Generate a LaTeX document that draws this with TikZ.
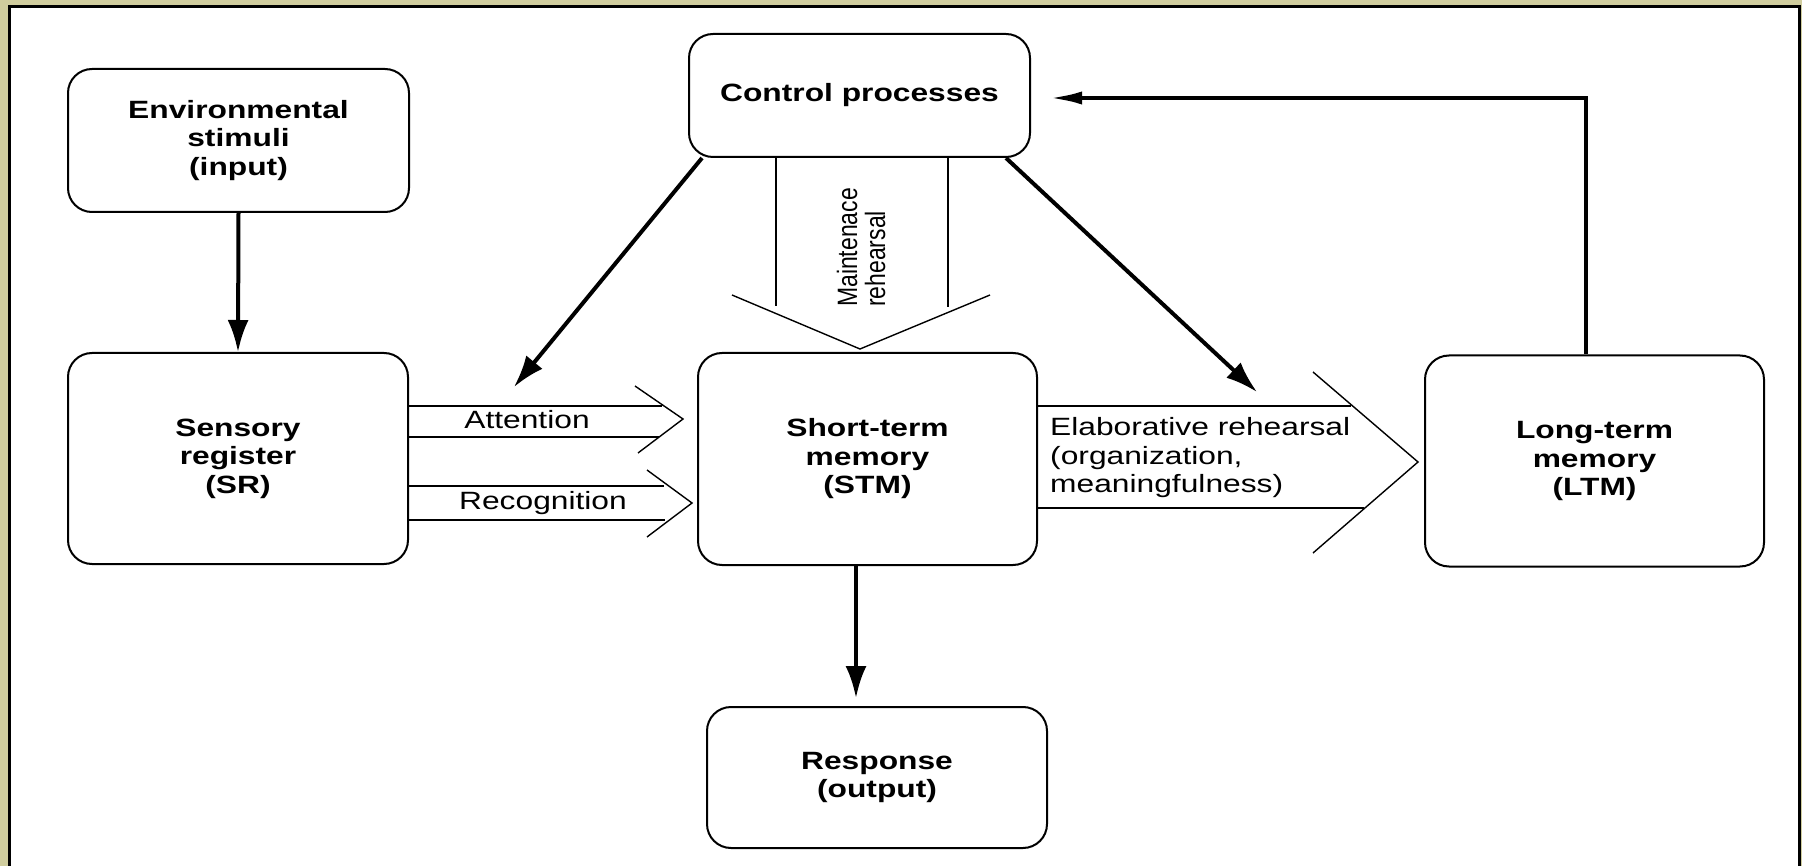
\documentclass[tikz,border=0pt]{standalone}
\usepackage{fontspec}
\setmainfont{Liberation Sans}
\newfontfamily\lblfont[FakeStretch=1.27]{Liberation Sans}
\newfontfamily\rotfont[FakeStretch=0.82]{Liberation Sans}
\usetikzlibrary{arrows.meta,calc}
\definecolor{olivebg}{RGB}{208,205,158}
\tikzset{
  box/.style={draw, line width=2pt, rounded corners=24pt, inner sep=0pt, align=center,
    font=\lblfont\bfseries\fontsize{25}{28.5}\selectfont},
  bigarr/.style={line width=4pt, -{Latex[length=32pt,width=21pt]}},
  broad/.style={line width=1.8pt},
  chev/.style={line width=1.4pt, line join=miter},
  lbl/.style={font=\lblfont\fontsize{25}{28.5}\selectfont, inner sep=0pt}
}
\begin{document}
\begin{tikzpicture}[x=1pt,y=-1pt]
\useasboundingbox (0,0) rectangle (1802,866);
\fill[olivebg] (0,0) rectangle (1802,866);
\fill[white] (10,7) rectangle (1799,866);
\draw[line width=3pt] (9.5,866) -- (9.5,6.5) -- (1799.5,6.5) -- (1799.5,866);

\node[box, minimum width=341pt, minimum height=143pt] (env) at (238.5,140.5) {Environmental\\stimuli\\(input)};
\node[box, minimum width=341pt, minimum height=123pt] (ctrl) at (859.5,95.5) {Control processes};
\node[box, minimum width=340pt, minimum height=211pt] (sr) at (238,458.5) {Sensory\\register\\(SR)};
\node[box, minimum width=339pt, minimum height=212pt] (stm) at (867.5,459) {Short-term\\memory\\(STM)};
\node[box, minimum width=339pt, minimum height=211pt] (ltm) at (1594.5,461) {Long-term\\memory\\(LTM)};
\node[box, minimum width=340pt, minimum height=141pt] (resp) at (877,777.5) {Response\\(output)};

% thick arrows
\draw[bigarr] (env.south) -- (sr.north);
\draw[bigarr] ([xshift=-11.5pt]stm.south) -- ([xshift=-11.5pt,yshift=8pt]stm.south |- resp.north);
\draw[line width=4.5pt, -{Latex[length=34pt,width=13pt]}] ([xshift=-8.5pt]ltm.north) |- ([xshift=17pt,yshift=-2.5pt]ctrl.east);
\coordinate (attnTip) at (514,387);
\coordinate (elabTip) at (1257,392);
\draw[bigarr] ([xshift=14pt]ctrl.south west) -- (attnTip);
\draw[bigarr] ([xshift=-25pt]ctrl.south east) -- (elabTip);

% Attention
\draw[broad] (sr.east |- 0,406) -- (662,406);
\draw[broad] (sr.east |- 0,437) -- (659,437);
\draw[chev] (635,386) -- (683,419) -- (638,453);
\node[lbl] (attn) at (527,420) {Attention};

% Recognition
\draw[broad] (sr.east |- 0,486) -- (664,486);
\draw[broad] (sr.east |- 0,520) -- (665,520);
\draw[chev] (647,470) -- (692,503) -- (647,537);
\node[lbl] (recog) at (543,503) {Recognition};

% Elaborative rehearsal
\draw[broad] (stm.east |- 0,406) -- (1351,406);
\draw[broad] (stm.east |- 0,508) -- (1364,508);
\draw[chev] (1313,372) -- (1418,462) -- (1313,553);
\node[lbl, anchor=west, align=left] (elab) at (1050,458) {Elaborative rehearsal\\(organization,\\meaningfulness)};

% Maintenance rehearsal
\draw[broad] (ctrl.south -| 776,0) -- (776,306);
\draw[broad] (ctrl.south -| 948,0) -- (948,307);
\draw[chev] (732,295) -- (860,349) -- (990,295);
\node[rotate=90, anchor=west, align=left, inner sep=0pt,
  font=\rotfont\fontsize{28}{28}\selectfont] (maint) at (861,307) {Maintenace\\rehearsal};
\end{tikzpicture}
\end{document}
